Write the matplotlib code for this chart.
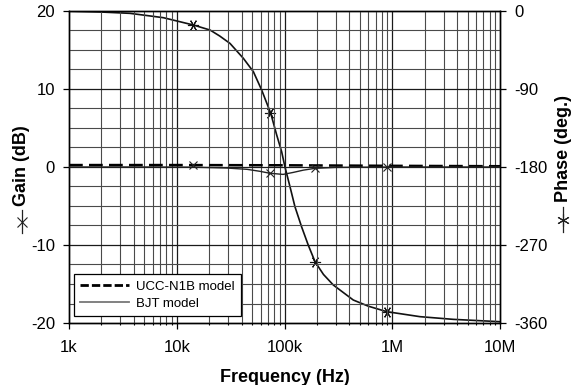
import matplotlib
matplotlib.use("Agg")
import matplotlib.pyplot as plt
import numpy as np
from matplotlib.lines import Line2D
from matplotlib.ticker import FixedLocator, NullFormatter, LogLocator

plt.rcParams['font.family'] = ['Liberation Sans', 'DejaVu Sans']

# ---------------- data ----------------
freq_phase = [1e3, 2e3, 3.68e3, 7.5e3, 14.3e3, 20.4e3, 25e3, 31.2e3, 41.5e3, 51.4e3,
              61.4e3, 74.5e3, 84.6e3, 94.1e3, 101e3, 112.5e3, 125e3, 144e3, 166e3,
              192e3, 230e3, 284e3, 435e3, 600e3, 887e3, 1.81e6, 3.69e6, 10e6]
phase_deg = [-0.3, -1.2, -2.7, -7.7, -16.2, -22.0, -28.8, -37.4, -54.6, -70.0,
             -91.2, -118.0, -143.0, -162.4, -180.0, -202.8, -225.8, -248.9, -270.0,
             -289.3, -304.0, -316.2, -333.5, -340.6, -346.9, -352.7, -355.8, -358.5]

freq_ucc = [1e3, 1e4, 1e5, 1e6, 1e7]
gain_ucc = [0.25, 0.25, 0.22, 0.15, 0.1]

freq_bjt = [1e3, 5e3, 14e3, 29e3, 45e3, 59e3, 73e3, 97e3, 120e3, 150e3, 192e3,
            300e3, 1e6, 1e7]
gain_bjt = [0.0, 0.0, -0.02, -0.13, -0.3, -0.55, -0.8, -0.95, -0.7, -0.4, -0.17,
            -0.05, 0.0, 0.0]

marker_freq = [14.3e3, 74e3, 192e3, 890e3]
gain_marker = [0.3, -0.8, -0.17, 0.0]
phase_marker = [-16.2, -118.0, -289.3, -346.9]

x_ticks = [1e3, 1e4, 1e5, 1e6, 1e7]
x_tick_labels = ['1k', '10k', '100k', '1M', '10M']
gain_ticks = [-20, -10, 0, 10, 20]
phase_ticks = [-360, -270, -180, -90, 0]
legend_labels = ['UCC-N1B model', 'BJT model']

# ---------------- figure ----------------
W, H = 579, 385
fig = plt.figure(figsize=(W / 100, H / 100), dpi=100)
L, R, T, B = 69, 500, 11, 323
ax = fig.add_axes([L / W, 1 - B / H, (R - L) / W, (B - T) / H])
ax.set_xscale('log')
ax.set_xlim(1e3, 1e7)
ax.set_ylim(-20, 20)

# grid
for e in range(3, 7):
    for m in range(1, 10):
        f = m * 10 ** e
        if f <= 1e3 or f >= 1e7:
            continue
        ax.axvline(f, color='#1a1a1a' if m == 1 else '#4a4a4a',
                   lw=0.9 if m == 1 else 0.8, zorder=0.5)
for g in np.arange(-17.5, 20, 2.5):
    ax.axhline(g, color='#1a1a1a' if g % 10 == 0 else '#4a4a4a',
               lw=0.9 if g % 10 == 0 else 0.8, zorder=0.5)

# gain curves
ax.plot(freq_ucc, gain_ucc, color='black', lw=1.8, dashes=(5.5, 2.5), zorder=3)
ax.plot(freq_bjt, gain_bjt, color='#222222', lw=1.0, zorder=3)
ax.plot(marker_freq, gain_marker, linestyle='none', marker='x', ms=6, mew=0.8,
        color='#222222', zorder=4)

# phase on twin axis
ax2 = ax.twinx()
ax2.set_ylim(-360, 0)
ax2.plot(freq_phase, phase_deg, color='#111111', lw=1.2, zorder=3)
ax2.plot(marker_freq, phase_marker, linestyle='none', marker=(6, 2, 90), ms=8, mew=0.8,
         color='#111111', zorder=4)

# ticks
ax.xaxis.set_major_locator(FixedLocator(x_ticks))
ax.set_xticklabels(x_tick_labels)
ax.xaxis.set_minor_locator(LogLocator(base=10, subs=np.arange(2, 10)))
ax.xaxis.set_minor_formatter(NullFormatter())
ax.set_yticks(gain_ticks)
ax.set_yticklabels([str(v) for v in gain_ticks])
ax2.set_yticks(phase_ticks)
ax2.set_yticklabels([str(v) for v in phase_ticks])

ax.tick_params(axis='both', which='major', direction='out', length=4, width=0.9,
               labelsize=12, color='black')
ax.tick_params(axis='x', which='major', pad=8)
ax.tick_params(axis='y', which='major', pad=6)
ax.tick_params(axis='x', which='minor', direction='out', length=1.5, width=0.8)
ax2.tick_params(axis='y', which='major', direction='out', length=4, width=0.9,
                labelsize=12, pad=6)
ax.tick_params(axis='y', which='minor', left=False)
for a in (ax, ax2):
    for s in a.spines.values():
        s.set_linewidth(1.0)
        s.set_color('black')

# axis labels
fig.text(22 / W, 1 - 166 / H, 'Gain (dB)', rotation=90, ha='center', va='center',
         fontsize=13, fontweight='bold')
fig.text(563 / W, 1 - 149 / H, 'Phase (deg.)', rotation=90, ha='center', va='center',
         fontsize=13, fontweight='bold')
fig.text((L + R) / 2 / W, 1 - 377 / H, 'Frequency (Hz)', ha='center', va='center',
         fontsize=13, fontweight='bold')

# label symbols
def label_symbol(xpix, y0, y1, marker, ms):
    ym = (y0 + y1) / 2
    fig.add_artist(Line2D([xpix / W] * 3, [1 - y0 / H, 1 - ym / H, 1 - y1 / H],
                          transform=fig.transFigure, color='#222222', lw=0.9,
                          marker=marker, markevery=[1], ms=ms, mew=0.8))

label_symbol(22, 210, 233, 'x', 7)
label_symbol(563, 207, 232, (6, 2, 0), 9)

# legend
leg_handles = [Line2D([0], [0], color='black', lw=2.0, dashes=(3, 1.1)),
               Line2D([0], [0], color='#777777', lw=1.3)]
leg = ax.legend(leg_handles, legend_labels, loc='lower left',
                bbox_to_anchor=(0.0116, 0.0224), borderaxespad=0, fancybox=False,
                edgecolor='black', framealpha=1, fontsize=9.5, handlelength=3.7,
                handletextpad=0.55, borderpad=0.45, labelspacing=0.4)
leg.get_frame().set_linewidth(0.9)
leg.set_zorder(10)
ax.set_zorder(ax2.get_zorder() + 1)
ax.patch.set_visible(False)

fig.savefig('out.png', dpi=100)
